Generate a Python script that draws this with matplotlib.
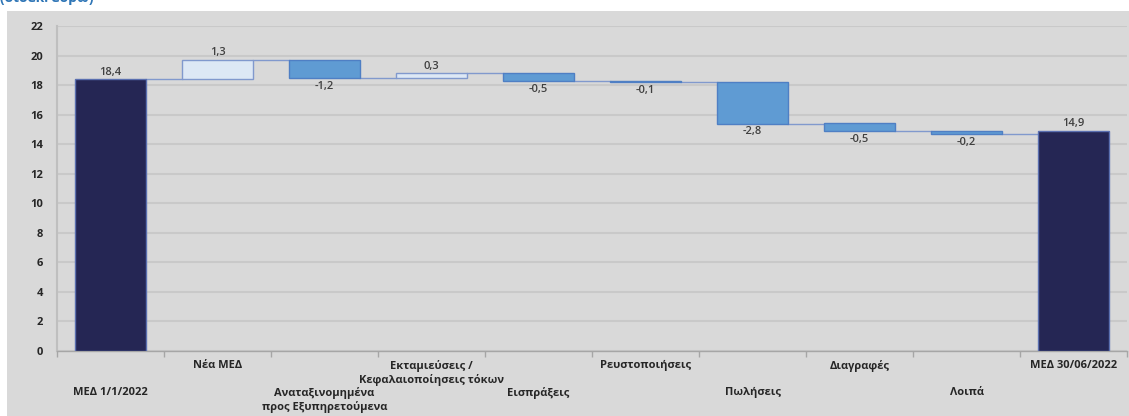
import matplotlib.pyplot as plt
import numpy as np

plt.rcParams['font.family'] = ['Open Sans', 'DejaVu Sans']

categories = ['ΜΕΔ 1/1/2022', 'Νέα ΜΕΔ', 'Αναταξινομημένα\nπρος Εξυπηρετούμενα',
              'Εκταμιεύσεις /\nΚεφαλαιοποίησεις τόκων', 'Εισπράξεις', 'Ρευστοποιήσεις',
              'Πωλήσεις', 'Διαγραφές', 'Λοιπά', 'ΜΕΔ 30/06/2022']
values = [18.4, 1.3, -1.2, 0.3, -0.5, -0.1, -2.8, -0.5, -0.2, 14.9]
is_total = [True, False, False, False, False, False, False, False, False, True]
yticks = [0, 2, 4, 6, 8, 10, 12, 14, 16, 18, 20, 22]

bg = '#d9d9d9'
navy = '#252654'
neg_fill = '#5f9bd3'
neg_edge = '#4f7fc4'
pos_fill = '#dde8f5'
pos_edge = '#8199cd'
conn = '#8199cd'

fig = plt.figure(figsize=(11.29, 4.16), dpi=100)
fig.patch.set_facecolor('white')
# grey panel behind the chart
panel = fig.add_axes([7 / 1129, 0, 1 - 7 / 1129, 1 - 11 / 416], zorder=-5)
panel.set_facecolor(bg)
panel.set_xticks([])
panel.set_yticks([])
for s in panel.spines.values():
    s.set_visible(False)

fig.text(0.0, 1.0 + 0.024, '(δισεκ. ευρώ)', color='#2e75b6', fontsize=10,
         fontweight='bold', ha='left', va='top')

ax = fig.add_axes([57 / 1129, 1 - 351 / 416, 1070 / 1129, 325 / 416])
ax.set_facecolor(bg)

x = np.arange(len(values))
w = 0.66
bottoms, tops = [], []
level = 0.0
for i, v in enumerate(values):
    if is_total[i]:
        b, t = 0.0, v
        level = v
    else:
        b, t = (level, level + v) if v >= 0 else (level + v, level)
        level = level + v
    bottoms.append(b)
    tops.append(t)

for i, v in enumerate(values):
    if is_total[i]:
        fc, ec = navy, '#5a6fb0'
    elif v >= 0:
        fc, ec = pos_fill, pos_edge
    else:
        fc, ec = neg_fill, neg_edge
    ax.bar(x[i], tops[i] - bottoms[i], bottom=bottoms[i], width=w,
           color=fc, edgecolor=ec, linewidth=1.0, zorder=3)
    lbl = f'{v:.1f}'.replace('.', ',')
    if is_total[i] or v >= 0:
        ax.text(x[i], tops[i] + 0.1, lbl, ha='center', va='bottom',
                fontsize=8, color='#404040', fontweight='semibold')
    else:
        ax.text(x[i], bottoms[i] - 0.2, lbl, ha='center', va='top',
                fontsize=8, color='#404040', fontweight='semibold')

# connectors at the running total
level = 0.0
for i, v in enumerate(values[:-1]):
    level = v if is_total[i] else level + v
    ax.plot([x[i] + w / 2, x[i + 1] - w / 2], [level, level],
            color=conn, linewidth=1.0, zorder=2)

ax.set_xlim(-0.5, len(values) - 0.5)
ax.set_ylim(0, 22)
ax.set_yticks(yticks)
ax.set_yticklabels([str(t) for t in yticks], fontsize=8, fontweight='bold',
                   color='#262626')
ax.tick_params(axis='y', length=0, pad=10)
ax.yaxis.grid(True, color='#c9c9c9', linewidth=1.5, zorder=0)
ax.set_axisbelow(True)

ax.set_xticks(np.arange(len(values) + 1) - 0.5)
ax.set_xticklabels([])
ax.tick_params(axis='x', length=4, color='#a6a6a6', width=1)
for i, c in enumerate(categories):
    yoff = -9 if i % 2 == 1 else -36
    ax.annotate(c, xy=(x[i], 0), xycoords='data', xytext=(0, yoff),
                textcoords='offset pixels',
                ha='center', va='top', fontsize=8, fontweight='bold',
                color='#262626', linespacing=1.25)

for s in ['top', 'right']:
    ax.spines[s].set_visible(False)
ax.spines['left'].set_color('#bfbfbf')
ax.spines['left'].set_linewidth(1.5)
ax.spines['bottom'].set_color('#a6a6a6')
ax.spines['bottom'].set_linewidth(1.0)

fig.savefig('out.png', dpi=100, facecolor=fig.get_facecolor())
